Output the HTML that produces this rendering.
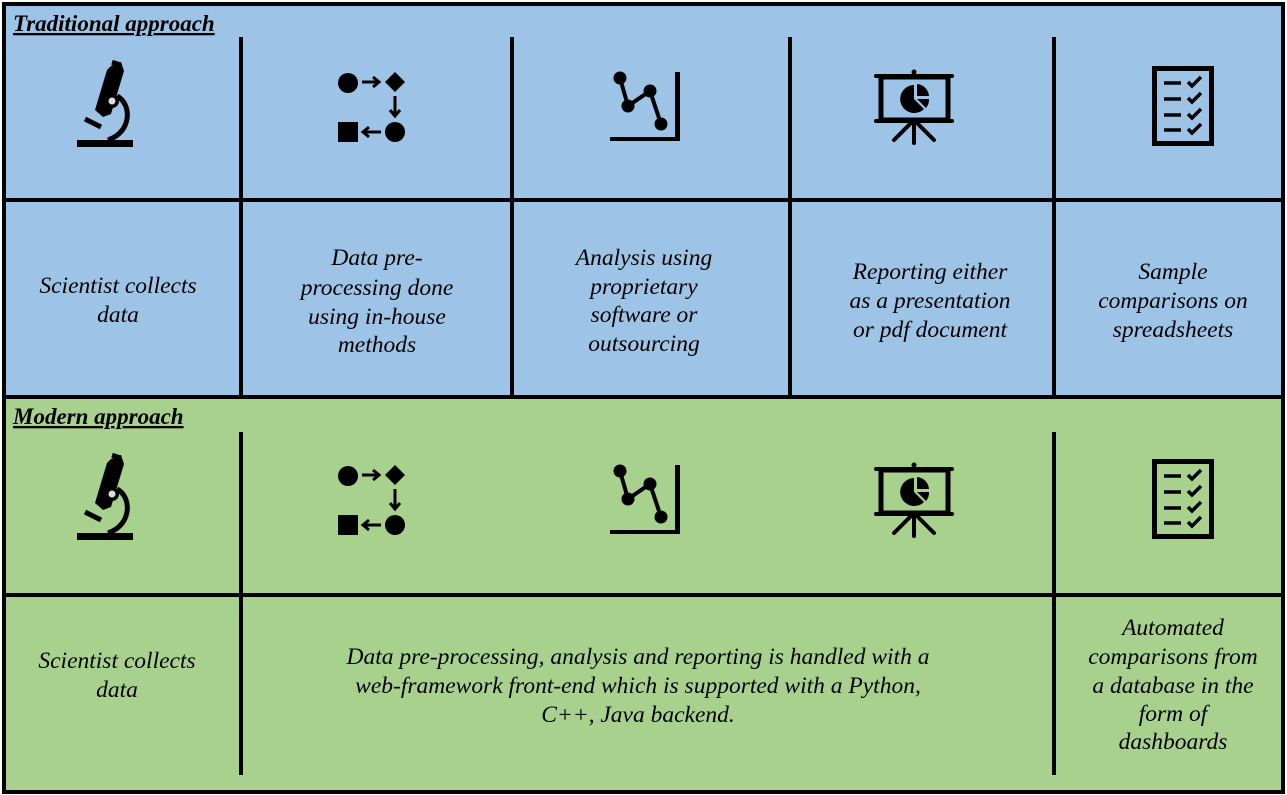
<!DOCTYPE html>
<html><head><meta charset="utf-8"><style>
html,body{margin:0;padding:0;background:#fff}
svg{display:block}
text{font-family:"Liberation Serif",serif;font-style:italic;font-size:23.5px;fill:#000}
</style></head><body>
<svg width="1287" height="795" viewBox="0 0 1287 795" xmlns="http://www.w3.org/2000/svg">
<defs>
<g id="mic">
<rect x="77" y="140" width="56" height="7"/>
<polygon points="111,66 121,62 124,71 111,114 103,117 95,110 107,70"/>
<rect x="112" y="61" width="9" height="5" transform="rotate(18 116 63)"/>
<circle cx="112" cy="101" r="7"/>
<circle cx="112" cy="101" r="3.5" fill="#ddd"/>
<path d="M117,96 C132,104 132,132 108,140" fill="none" stroke="#000" stroke-width="5"/>
<line x1="85" y1="119" x2="101" y2="127" stroke="#000" stroke-width="5"/>
</g>
<g id="flow">
<circle cx="348" cy="83" r="10"/>
<polygon points="395,72 405,82 395,92 385,82"/>
<circle cx="395" cy="132" r="10"/>
<rect x="338" y="122" width="20" height="20"/>
<line x1="362" y1="82" x2="378" y2="82" stroke="#000" stroke-width="3"/>
<polyline points="373,77 379,82 373,87" fill="none" stroke="#000" stroke-width="3"/>
<line x1="395" y1="96" x2="395" y2="115" stroke="#000" stroke-width="3"/>
<polyline points="390,110 395,116 400,110" fill="none" stroke="#000" stroke-width="3"/>
<line x1="381" y1="132" x2="364" y2="132" stroke="#000" stroke-width="3"/>
<polyline points="369,127 363,132 369,137" fill="none" stroke="#000" stroke-width="3"/>
</g>
<g id="chart">
<polyline points="620,78 628,106 650,91 661,124" fill="none" stroke="#000" stroke-width="4"/>
<circle cx="620" cy="78" r="6.5"/><circle cx="628" cy="106" r="6.5"/>
<circle cx="650" cy="91" r="6.5"/><circle cx="661" cy="124" r="6.5"/>
<rect x="610" y="137" width="70" height="4"/>
<rect x="675" y="72" width="5" height="69"/>
</g>
<g id="pres">
<rect x="881" y="77" width="67" height="43" fill="none" stroke="#000" stroke-width="5"/>
<line x1="876" y1="76" x2="952" y2="76" stroke="#000" stroke-width="4" stroke-linecap="round"/>
<line x1="876" y1="121" x2="952" y2="121" stroke="#000" stroke-width="4" stroke-linecap="round"/>
<circle cx="914" cy="72" r="2.5"/>
<path d="M914,99 L914,85 A14,14 0 1 0 924,109 Z"/>
<path d="M917,96 L917,84 A13,13 0 0 1 929,96 Z"/>
<path d="M917,99 L929,99 A13,13 0 0 1 926,108 Z"/>
<line x1="914" y1="121" x2="914" y2="143" stroke="#000" stroke-width="4" stroke-linecap="round"/>
<line x1="912" y1="122" x2="894" y2="140" stroke="#000" stroke-width="4" stroke-linecap="round"/>
<line x1="916" y1="122" x2="934" y2="140" stroke="#000" stroke-width="4" stroke-linecap="round"/>
</g>
<g id="check">
<rect x="1154.5" y="68.5" width="57" height="75" fill="none" stroke="#000" stroke-width="5"/>
<g stroke="#000" stroke-width="3.5" fill="none">
<line x1="1164" y1="83" x2="1181" y2="83"/><line x1="1164" y1="99" x2="1181" y2="99"/>
<line x1="1164" y1="115" x2="1181" y2="115"/><line x1="1164" y1="130" x2="1181" y2="130"/>
<polyline points="1188,82 1192,86 1201,77"/><polyline points="1188,98 1192,102 1201,93"/>
<polyline points="1188,114 1192,118 1201,109"/><polyline points="1188,129 1192,133 1201,124"/>
</g>
</g>
</defs>
<rect x="0" y="0" width="1287" height="795" fill="#fff"/>
<rect x="4" y="4" width="1279" height="394" fill="#9dc3e6"/>
<rect x="4" y="398" width="1279" height="394" fill="#a9d18e"/>
<g stroke="#000" stroke-width="4" fill="none">
<rect x="4" y="4" width="1279" height="788"/>
<line x1="4" y1="200" x2="1283" y2="200"/>
<line x1="4" y1="397" x2="1283" y2="397"/>
<line x1="4" y1="595" x2="1283" y2="595"/>
<line x1="241" y1="37" x2="241" y2="397"/>
<line x1="512" y1="37" x2="512" y2="397"/>
<line x1="790" y1="37" x2="790" y2="397"/>
<line x1="1054" y1="37" x2="1054" y2="397"/>
<line x1="241" y1="432" x2="241" y2="775"/>
<line x1="1054" y1="432" x2="1054" y2="775"/>
</g>
<use href="#mic"/><use href="#flow"/><use href="#chart"/><use href="#pres"/><use href="#check"/>
<g transform="translate(0,393)"><use href="#mic"/><use href="#flow"/><use href="#chart"/><use href="#pres"/><use href="#check"/></g>
<text x="13" y="31" style="font-weight:bold;text-decoration:underline;font-size:23px">Traditional approach</text>
<text x="13" y="424" style="font-weight:bold;text-decoration:underline;font-size:23px">Modern approach</text>
<g text-anchor="middle">
<text x="118" y="293">Scientist collects</text><text x="118" y="322">data</text>
<text x="377" y="265">Data pre-</text><text x="377" y="295">processing done</text><text x="377" y="324">using in-house</text><text x="377" y="352">methods</text>
<text x="644" y="265">Analysis using</text><text x="644" y="294">proprietary</text><text x="644" y="322">software or</text><text x="644" y="351">outsourcing</text>
<text x="930" y="279">Reporting either</text><text x="930" y="308">as a presentation</text><text x="930" y="337">or pdf document</text>
<text x="1173" y="279">Sample</text><text x="1173" y="308">comparisons on</text><text x="1173" y="337">spreadsheets</text>
<text x="117" y="668">Scientist collects</text><text x="117" y="697">data</text>
<text x="638" y="664">Data pre-processing, analysis and reporting is handled with a</text>
<text x="638" y="693">web-framework front-end which is supported with a Python,</text>
<text x="638" y="722">C++, Java backend.</text>
<text x="1173" y="635">Automated</text><text x="1173" y="664">comparisons from</text><text x="1173" y="693">a database in the</text><text x="1173" y="721">form of</text><text x="1173" y="749">dashboards</text>
</g>
</svg>
</body></html>
